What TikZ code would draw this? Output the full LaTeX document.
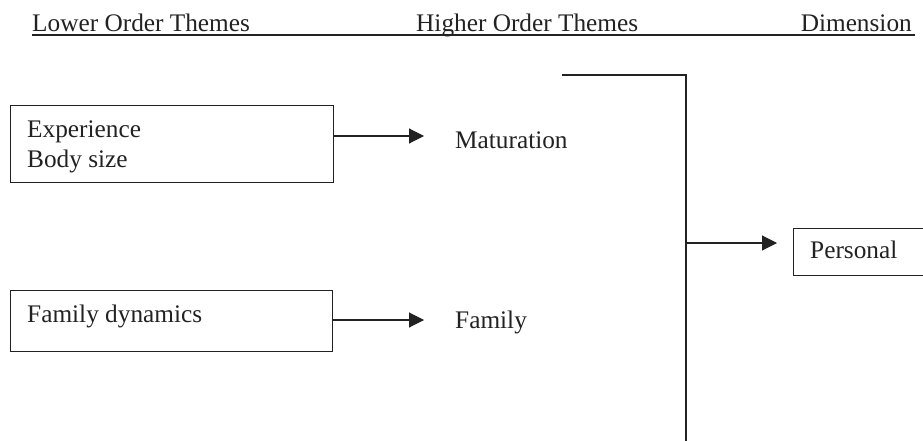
\documentclass[tikz,border=0pt]{standalone}
\usepackage{fontspec}
\setmainfont{Liberation Serif}
\usetikzlibrary{arrows.meta}

\definecolor{ink}{HTML}{222222}

\tikzset{
  txt/.style={inner sep=0pt, anchor=base west, text=ink,
              font=\fontsize{25.3}{30}\selectfont},
  themebox/.style={draw=ink, line width=1.1pt, inner sep=0pt, anchor=north west},
  link/.style={draw=ink, line width=1.1pt},
  arr/.style={link, -{Triangle[length=15pt,width=15pt]}},
}

\begin{document}
\begin{tikzpicture}[x=1pt, y=-1pt]
  \useasboundingbox (0,0) rectangle (923,441);
  \clip (0,0) rectangle (923,441);

  % column headings with one shared underline
  \node[txt] (hlow) at (32,32) {Lower Order Themes};
  \node[txt] (hhigh) at (416,32) {Higher Order Themes};
  \node[txt, anchor=base east] (hdim) at (912,32) {Dimension};
  \coordinate (ulstart) at (32,35);
  \coordinate (ulend) at (915,35);
  \draw[ink, line width=1.8pt] (ulstart) -- (ulend);

  % lower order theme boxes
  \node[themebox, minimum width=323pt, minimum height=77pt] (expbox) at (10,105) {};
  \node[txt] (exp) at (27,137) {Experience};
  \node[txt] (body) at (27,167) {Body size};

  \node[themebox, minimum width=322pt, minimum height=61pt] (fambox) at (10,290) {};
  \node[txt] (famdyn) at (27,322) {Family dynamics};

  % higher order themes
  \node[txt] (mat) at (455,149) {Maturation};
  \node[txt] (fam) at (455,328) {Family};

  % dimension box (runs past the right edge)
  \node[themebox, minimum width=150pt, minimum height=47pt] (perbox) at (793,228) {};
  \node[txt] (per) at (810,258) {Personal};

  % arrows from boxes to themes
  \coordinate (a1s) at (expbox.east |- 0,136);
  \coordinate (a1e) at (424,136);
  \draw[arr] (a1s) -- (a1e);

  \coordinate (a2s) at (fambox.east |- 0,320);
  \coordinate (a2e) at (424,320);
  \draw[arr] (a2s) -- (a2e);

  % bracket gathering the themes into the dimension
  \coordinate (brtl) at (562,75);
  \coordinate (brtr) at (686,75);
  \coordinate (brbot) at (686,445);
  \draw[link] (brtl) -- (brtr) -- (brbot);

  \coordinate (a3s) at (686,243);
  \coordinate (a3e) at (777,243);
  \draw[arr] (a3s) -- (a3e);
\end{tikzpicture}
\end{document}
